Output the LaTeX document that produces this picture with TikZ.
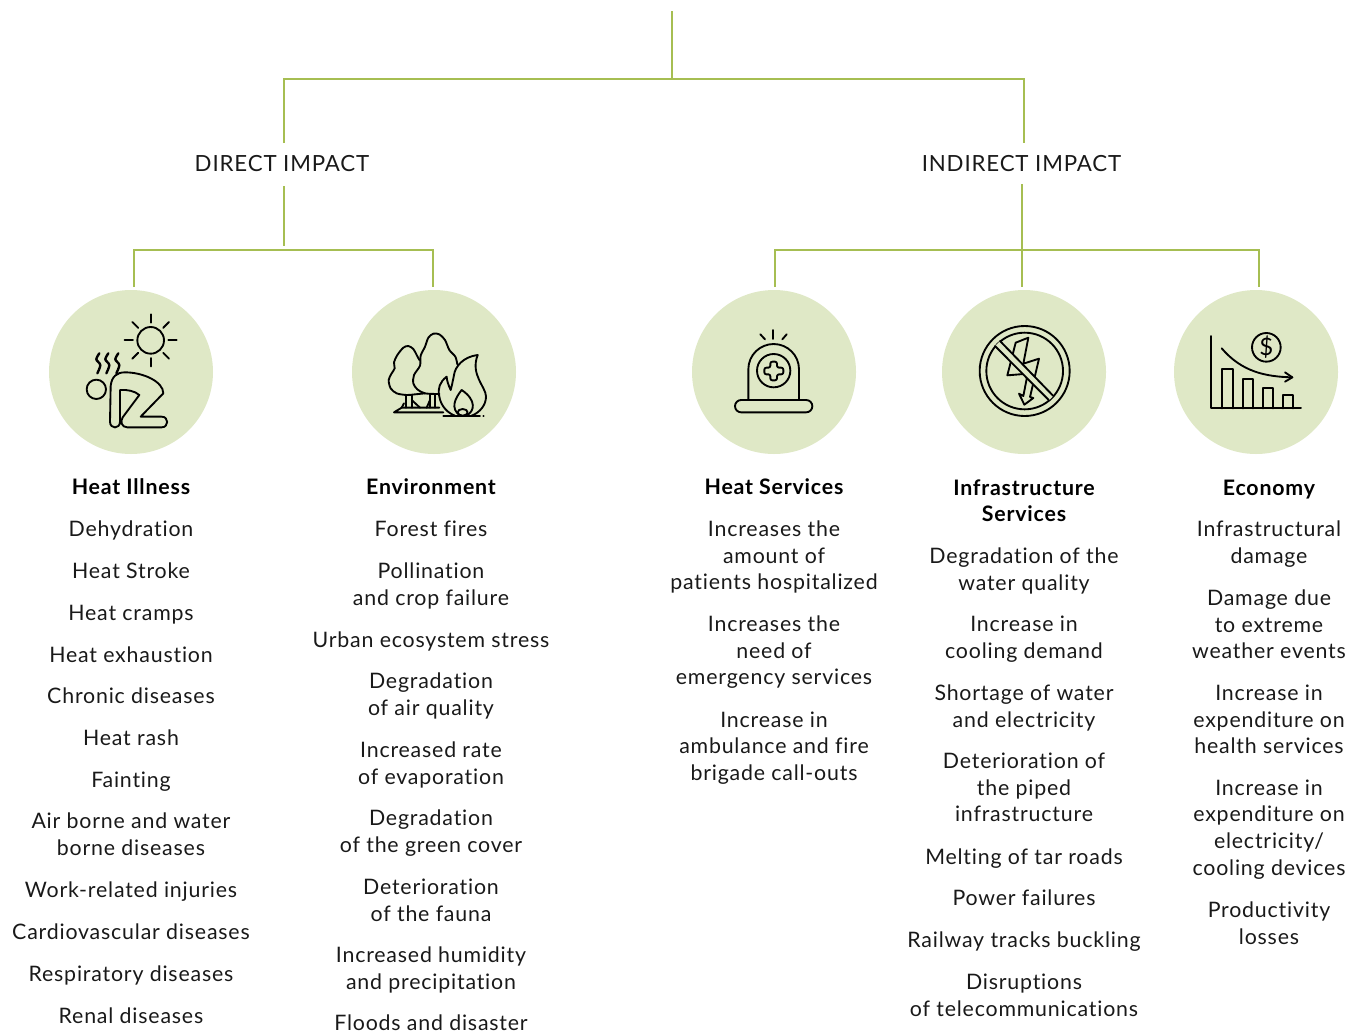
\documentclass[tikz,border=0pt]{standalone}
\usepackage{fontspec}
\setmainfont{Lato}[LetterSpace=3.8, Ligatures={NoCommon}]
\definecolor{linkgreen}{HTML}{A6BE52}
\definecolor{softgreen}{HTML}{DFE8C6}
\tikzset{
	link/.style={draw=linkgreen, line width=1.7pt},
	badge/.style={circle, fill=softgreen, minimum size=123pt, inner sep=0pt, outer sep=2.25pt},
	impact/.style={font=\fontsize{16.7}{21}\selectfont, text=black!90, inner sep=0pt},
	words/.style={align=center, inner sep=0pt, font=\fontsize{16}{20}\selectfont, text=black!90},
	entry/.style={words, yshift=-2.2pt},
	heading/.style={words, font=\fontsize{16}{19.5}\selectfont\bfseries, text=black},
	icon/.style={line width=1.4pt, line join=round, line cap=round},
	zoomed/.style={x=0.25pt, y=-0.25pt}
}
\begin{document}
\begin{tikzpicture}[x=0.75pt, y=-0.75pt]
	\useasboundingbox (0,0) rectangle (1351,1032);
	% circles
	\node[badge] (heatcirc) at (131,372) {};
	\node[badge] (envcirc) at (434,372) {};
	\node[badge] (servcirc) at (774,372) {};
	\node[badge] (infracirc) at (1024,372) {};
	\node[badge] (econcirc) at (1256,372) {};
	% tree
	\coordinate (top) at (672,11);
	\coordinate (fork) at (672,79);
	\coordinate (fl) at (284,79);
	\coordinate (fr) at (1024,79);
	\coordinate (dtop) at (284,143);
	\coordinate (itop) at (1024,143);
	\coordinate (dlow) at (284,186);
	\coordinate (ilow) at (1022,184);
	\coordinate (dstem) at (284,246);
	\coordinate (dl) at (134,250);
	\coordinate (dr) at (433,250);
	\coordinate (il) at (775,250);
	\coordinate (ir) at (1259,250);
	\node[impact] (direct) at (282,163.5) {DIRECT IMPACT};
	\node[impact] (indirect) at (1021.5,163.5) {INDIRECT IMPACT};
	\draw[link] (top) -- (fork);
	\draw[link] (dtop) -- (fl) -- (fr) -- (itop);
	\draw[link] (dlow) -- (dstem);
	\draw[link] (heatcirc.north -| dl) -- (dl) -- (dr) -- (envcirc.north -| dr);
	\draw[link] (servcirc.north -| il) -- (il) -- (ir) -- (econcirc.north -| ir);
	\draw[link] (ilow) -- (infracirc.north -| ilow);
	% heat illness
	\node[heading] at (131,486.5) (heathead) {Heat Illness};
	\foreach \y/\t [count=\i] in {528/Dehydration, 570/Heat Stroke, 612/Heat cramps, 654/Heat exhaustion, 695/Chronic diseases, 737/Heat rash, 779/Fainting, 834/{Air borne and water\\borne diseases}, 889/Work-related injuries, 931/Cardiovascular diseases, 973/Respiratory diseases, 1015/Renal diseases}
		\node[entry] (heat\i) at (131,\y) {\strut\t\strut};
	% environment
	\node[heading] at (431,486.5) (envhead) {Environment};
	\foreach \y/\t [count=\i] in {528/Forest fires, 583.5/{Pollination\\and crop failure}, 639/Urban ecosystem stress, 693.5/{Degradation\\of air quality}, 762.5/{Increased rate\\of evaporation}, 830.5/{Degradation\\of the green cover}, 899.5/{Deterioration\\of the fauna}, 967.5/{Increased humidity\\and precipitation}, 1022/Floods and disaster}
		\node[entry] (env\i) at (431,\y) {\strut\t\strut};
	% heat services
	\node[heading] at (774,486.5) (servhead) {Heat Services};
	\foreach \y/\t [count=\i] in {555/{Increases the\\amount of\\patients hospitalized}, 650/{Increases the\\need of\\emergency services}, 745.5/{Increase in\\ambulance and fire\\brigade call-outs}}
		\node[entry] (serv\i) at (774,\y) {\strut\t\strut};
	% infrastructure
	\node[heading] at (1024,500.5) (infrahead) {Infrastructure\\Services};
	\foreach \y/\t [count=\i] in {568.5/{Degradation of the\\water quality}, 637/{Increase in\\cooling demand}, 706/{Shortage of water\\and electricity}, 787/{Deterioration of\\the piped\\infrastructure}, 856/Melting of tar roads, 897/Power failures, 939/Railway tracks buckling, 994.5/{Disruptions\\of telecommunications}}
		\node[entry] (infra\i) at (1024,\y) {\strut\t\strut};
	% economy
	\node[heading] at (1269,489.5) (econhead) {Economy};
	\foreach \y/\t [count=\i] in {541.5/{Infrastructural\\damage}, 624/{Damage due\\to extreme\\weather events}, 719/{Increase in\\expenditure on\\health services}, 827/{Increase in\\expenditure on\\electricity/\\cooling devices}, 922.5/{Productivity\\losses}}
		\node[entry] (econ\i) at (1269,\y) {\strut\t\strut};
	% person and sun
	\begin{scope}[shift={(80,310)}, zoomed, icon]
		\draw (212,91) circle (40);
		\foreach \a in {0,45,...,315}
			\draw (212,91) ++(\a:53) -- ++(\a:25);
		\draw (49,238) circle (29);
		\foreach \x in {58,85,115}
			\draw[line width=1.8pt, smooth] plot coordinates {(\x,130) (\x-9,148) (\x+3,165) (\x-6,190)};
		\draw (92,228) .. controls (95,200) and (110,187) .. (135,187) .. controls (190,187) and (250,215) .. (250,250) -- (182,320) -- (245,320) .. controls (267,320) and (267,352) .. (245,352) -- (142,352) .. controls (125,352) and (120,335) .. (128,322) -- (178,255) .. controls (165,243) and (140,238) .. (120,240) -- (120,335) .. controls (120,358) and (90,358) .. (90,335) -- cycle;
	\end{scope}
	% trees and fire
	\begin{scope}[shift={(380,325)}, zoomed, icon]
		\draw[smooth] plot coordinates {(135,205) (105,208) (80,210) (50,205) (32,190) (26,165) (35,145) (44,130) (42,112) (52,90) (70,68) (85,63) (100,72) (110,90) (118,105)};
		\draw[smooth] plot coordinates {(232,118) (226,95) (208,75) (195,45) (178,28) (160,26) (145,38) (135,65) (122,92) (120,122) (102,150) (100,175) (112,193) (135,205) (178,207)};
		\draw (293,90) .. controls (250,95) and (225,125) .. (222,150) .. controls (218,170) and (215,185) .. (212,195) .. controls (205,180) and (200,165) .. (200,155) .. controls (180,170) and (172,190) .. (178,215) .. controls (183,245) and (205,265) .. (225,272);
		\draw (275,272) .. controls (300,262) and (318,240) .. (318,215) .. controls (318,185) and (270,150) .. (293,90);
		\draw (245,195) .. controls (225,220) and (210,250) .. (240,272);
		\draw (258,272) .. controls (285,260) and (290,225) .. (245,195);
		\draw (248,262) ellipse (15 and 10);
		\draw (190,272) -- (300,272);
		\draw (310,272) -- (311,272);
		\draw (190,262) -- (42,262) -- (65,248) -- (178,248);
		\draw (78,210) -- (78,248);
		\draw (95,210) -- (95,248);
		\draw (150,207) -- (150,248);
		\draw (165,207) -- (165,248);
		\draw (95,225) -- (120,248);
		\draw (140,248) -- (150,225);
		\draw (65,248) -- (72,235);
	\end{scope}
	% siren
	\begin{scope}[shift={(725,325)}, zoomed, icon]
		\draw (145,15) -- (145,42);
		\draw (106,28) -- (120,43);
		\draw (185,28) -- (172,43);
		\draw (70,225) -- (70,133) .. controls (70,90) and (105,57) .. (146,57) .. controls (187,57) and (222,90) .. (222,133) -- (222,225);
		\draw (146,137) circle (50);
		\draw[rounded corners=1.5pt] (136,110) -- (156,110) -- (156,128) -- (175,128) -- (175,148) -- (156,148) -- (156,166) -- (136,166) -- (136,148) -- (118,148) -- (118,128) -- (136,128) -- cycle;
		\draw[rounded corners=4.6pt] (30,225) rectangle (262,262);
	\end{scope}
	% no power
	\begin{scope}[shift={(975,322)}, zoomed, icon]
		\draw (149,147) circle (135);
		\draw (149,147) circle (115);
		\draw (160,47) -- (145,125) -- (192,110) -- (165,225) -- (175,228) -- (148,248) -- (132,215) -- (145,222) -- (158,155) -- (97,160) -- (122,62) -- cycle;
		\fill[softgreen] (60,72) -- (75,57) -- (235,222) -- (222,235) -- cycle;
		\draw (60,72) -- (222,235);
		\draw (75,57) -- (235,222);
	\end{scope}
	% falling chart
	\begin{scope}[shift={(1205,325)}, zoomed, icon]
		\draw (18,33) -- (18,250) -- (288,250);
		\draw (52,250) -- (52,132) -- (85,132) -- (85,250);
		\draw (113,250) -- (113,162) -- (145,162) -- (145,250);
		\draw (173,250) -- (173,190) -- (205,190) -- (205,250);
		\draw (233,250) -- (233,210) -- (265,210) -- (265,250);
		\draw (184,67) circle (43);
		\node[font=\fontsize{18}{18}\selectfont, inner sep=0pt] (dollar) at (184,67) {\$};
		\draw (50,70) .. controls (110,140) and (180,155) .. (262,157);
		\draw (240,142) -- (262,157) -- (240,170);
	\end{scope}
\end{tikzpicture}
\end{document}
